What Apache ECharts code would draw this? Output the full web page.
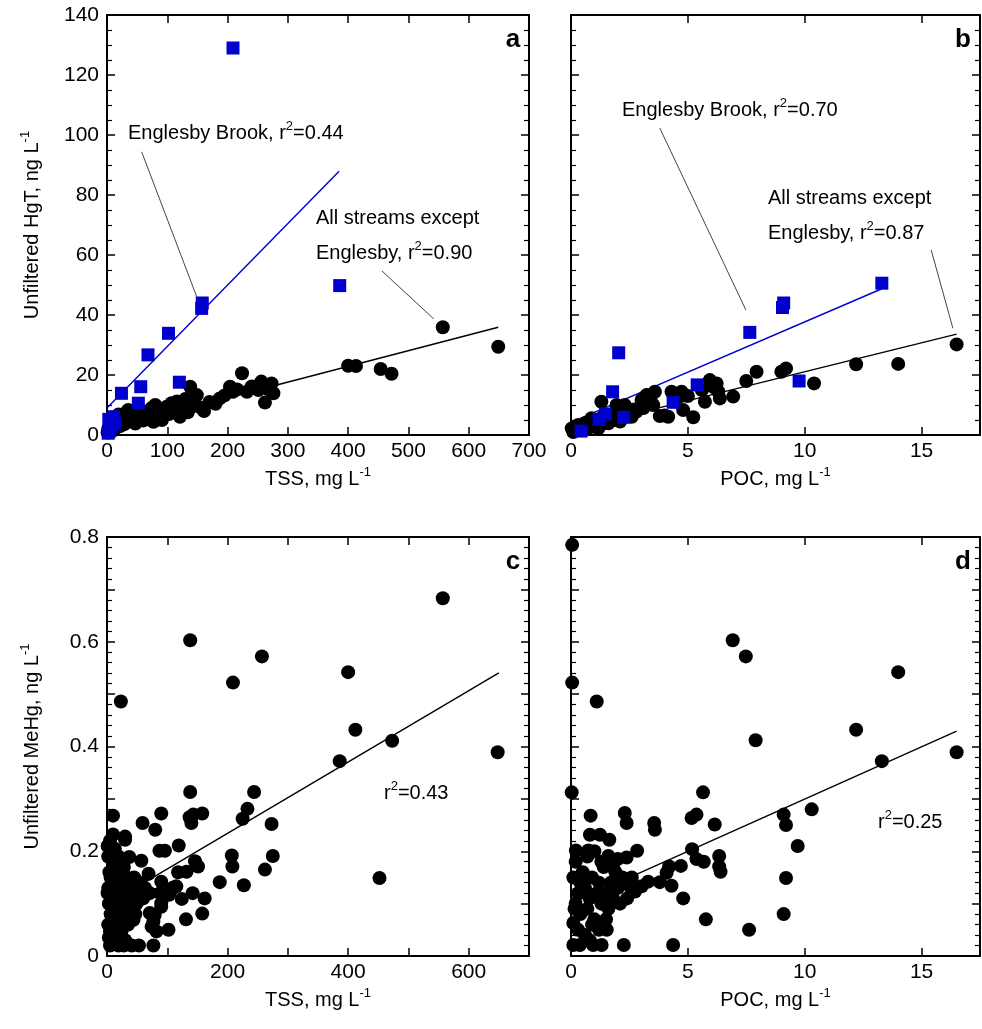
<!DOCTYPE html>
<html>
<head>
<meta charset="utf-8">
<script src="https://cdn.jsdelivr.net/npm/echarts@6/dist/echarts.min.js"></script>
<style>
html, body { margin: 0; padding: 0; background: #fff; }
#chart { width: 982px; height: 1029px; }
</style>
</head>
<body>
<div id="chart"></div>
<script>
// panel a: TSS (mg/L) vs unfiltered HgT (ng/L)
const hgtTssOthers = [
  [1, 0.8], [2, 2], [3, 1], [4, 3], [5, 1.8], [6, 4], [7, 2.6], [8, 1.2], [9, 3.4], [10, 5], [11, 2.2],
  [12, 4.2], [13, 3], [14, 6], [16, 2.5], [17, 4.6], [18, 3.5], [19, 6.8], [21, 5], [22, 3], [24, 4.2],
  [26, 6.2], [28, 3.6], [30, 5.4], [32, 7.4], [35, 8.3], [37, 4.5], [39, 6.3], [42, 5], [44, 7.6],
  [47, 3.8], [49, 6.2], [52, 5.2], [55, 6.1], [57, 8.2], [60, 4.8], [63, 7.2], [66, 5.8], [70, 6.6],
  [74, 9], [77, 4.4], [80, 10], [84, 7.2], [88, 5.6], [91, 5], [95, 8.4], [99, 9.4], [103, 7],
  [107, 10.6], [111, 8.2], [116, 11.2], [121, 6.1], [126, 9.2], [130, 12], [134, 7.6], [138, 16.1],
  [140, 9.4], [145, 10.2], [149, 13.3], [155, 9.2], [161, 8], [170, 11], [180, 10.4], [187, 12.2],
  [195, 13.2], [204, 16.1], [209, 14.4], [216, 15.2], [224, 20.6], [232, 14.4], [240, 16.2],
  [245, 16.1], [251, 15], [256, 17.8], [262, 10.8], [268, 15.2], [273, 17.2], [276, 13.9],
  [400, 23.1], [413, 23], [454, 22], [472, 20.4], [557, 35.9], [649, 29.4]
];
const hgtTssEnglesby = [
  [209, 129], [386, 49.8], [157, 42.2], [158, 44], [102, 33.9], [68, 26.7], [120, 17.6], [56, 16.1],
  [24, 13.9], [52, 10.6], [10.5, 6.1], [13, 4], [8, 3], [5, 2.4], [3, 5.2], [2, 0.6], [4, 1.4]
];

// panel b: POC (mg/L) vs unfiltered HgT (ng/L)
const hgtPocOthers = [
  [0.03, 2.2], [0.1, 1], [0.2, 2.8], [0.31, 3.3], [0.4, 1.8], [0.5, 2.5], [0.6, 3.9], [0.7, 2],
  [0.8, 4.5], [0.88, 5.6], [1.0, 3], [1.1, 4.2], [1.17, 2.2], [1.3, 11.1], [1.35, 6], [1.5, 4],
  [1.6, 3.9], [1.7, 6.5], [1.88, 5], [1.95, 10], [2.0, 7.5], [2.1, 4.5], [2.3, 10], [2.4, 6.5],
  [2.6, 6.1], [2.7, 8.5], [2.8, 7.8], [3.02, 11.7], [3.1, 9], [3.23, 13.3], [3.4, 12], [3.52, 10],
  [3.59, 14.4], [3.8, 6.3], [4.0, 6.5], [4.16, 6.1], [4.3, 14.4], [4.5, 12], [4.73, 14.4], [4.8, 8.3],
  [5.0, 13], [5.23, 5.9], [5.6, 15], [5.73, 11.1], [5.94, 18.3], [6.1, 16], [6.23, 17.2], [6.3, 14.5],
  [6.37, 12.2], [6.94, 12.8], [7.5, 18], [7.94, 21.1], [9.0, 21.1], [9.2, 22.2], [10.4, 17.2],
  [12.2, 23.6], [14.0, 23.7], [16.5, 30.2]
];
const hgtPocEnglesby = [
  [13.3, 50.6], [9.05, 42.5], [9.1, 44], [7.65, 34.2], [2.04, 27.4], [9.76, 18], [5.4, 16.7],
  [1.78, 14.4], [4.37, 10.9], [1.48, 7], [1.2, 5.2], [2.26, 5.9], [0.43, 1.3]
];

// panel c: TSS (mg/L) vs unfiltered MeHg (ng/L)
const mehgTss = [
  [557, 0.683], [138, 0.603], [257, 0.572], [400, 0.542], [209, 0.522], [23, 0.486], [412, 0.432],
  [473, 0.411], [648, 0.389], [386, 0.372], [452, 0.149],
  [138, 0.313], [244, 0.313], [233, 0.281], [225, 0.262], [273, 0.252], [275, 0.191], [262, 0.165],
  [207, 0.192], [208, 0.171], [227, 0.135], [187, 0.141],
  [10, 0.268], [10, 0.232], [30, 0.222], [30, 0.228], [59, 0.254], [80, 0.241], [90, 0.272],
  [137, 0.265], [140, 0.254], [143, 0.27], [158, 0.272], [119, 0.211], [87, 0.201], [96, 0.201],
  [37, 0.189], [57, 0.182], [69, 0.157], [118, 0.16], [132, 0.161], [146, 0.181], [151, 0.171],
  [90, 0.142], [115, 0.133], [106, 0.126], [110, 0.131], [71, 0.12], [88, 0.12], [103, 0.117],
  [124, 0.109], [142, 0.12], [162, 0.11], [90, 0.101], [90, 0.094], [49, 0.1], [44, 0.069],
  [71, 0.082], [79, 0.078], [77, 0.066], [74, 0.056], [82, 0.047], [102, 0.05], [131, 0.07],
  [158, 0.081], [77, 0.02], [53, 0.02], [41, 0.02], [19, 0.02], [5, 0.02], [24, 0.047], [5, 0.047],
  [2, 0.06], [6, 0.08], [12, 0.07], [18, 0.09], [3, 0.1], [9, 0.11], [15, 0.12], [21, 0.1],
  [27, 0.11], [2, 0.13], [8, 0.14], [14, 0.15], [20, 0.13], [26, 0.14], [33, 0.15], [4, 0.16],
  [10, 0.17], [16, 0.18], [22, 0.16], [28, 0.17], [35, 0.12], [40, 0.13], [45, 0.15], [2, 0.19],
  [7, 0.2], [13, 0.205], [19, 0.19], [25, 0.18], [1, 0.21], [5, 0.22], [3, 0.035], [9, 0.04],
  [15, 0.05], [21, 0.06], [27, 0.07], [33, 0.08], [39, 0.09], [45, 0.1], [50, 0.12], [55, 0.14],
  [60, 0.11], [63, 0.13], [35, 0.06], [30, 0.03], [12, 0.03], [28, 0.02], [1, 0.12], [6, 0.15],
  [11, 0.09], [17, 0.06], [23, 0.08], [40, 0.07], [47, 0.08]
];

// panel d: POC (mg/L) vs unfiltered MeHg (ng/L)
const mehgPoc = [
  [0.05, 0.785], [6.92, 0.603], [7.48, 0.572], [14.0, 0.542], [0.05, 0.522], [1.1, 0.486],
  [12.2, 0.432], [7.9, 0.412], [16.5, 0.389], [13.3, 0.372], [9.2, 0.149],
  [0.03, 0.3125], [5.65, 0.3125], [0.84, 0.268], [2.3, 0.273], [2.38, 0.254], [3.56, 0.254],
  [3.59, 0.241], [5.16, 0.2635], [5.37, 0.27], [6.15, 0.251], [0.81, 0.2315], [1.24, 0.2315],
  [1.64, 0.222], [0.21, 0.2015], [0.74, 0.2015], [2.83, 0.201], [2.38, 0.188], [1.6, 0.191],
  [5.18, 0.204], [5.37, 0.185], [5.68, 0.18], [6.34, 0.191], [6.34, 0.171], [6.4, 0.161],
  [4.7, 0.172], [4.2, 0.171], [4.09, 0.159], [3.8, 0.141], [4.3, 0.134], [4.8, 0.11],
  [5.77, 0.07], [7.62, 0.05], [4.37, 0.021], [2.26, 0.021], [3.3, 0.142], [3.02, 0.133],
  [2.74, 0.123], [2.52, 0.133], [1.31, 0.021], [0.95, 0.021], [0.38, 0.021], [0.1, 0.021],
  [1.53, 0.05], [0.1, 0.063], [10.3, 0.28], [9.7, 0.21], [9.1, 0.27], [9.2, 0.25], [9.1, 0.08],
  [0.1, 0.15], [0.2, 0.1], [0.3, 0.12], [0.4, 0.08], [0.5, 0.16], [0.6, 0.13], [0.7, 0.09],
  [0.8, 0.11], [0.9, 0.15], [1.0, 0.07], [1.1, 0.12], [1.2, 0.14], [1.3, 0.1], [1.4, 0.17],
  [1.5, 0.12], [1.6, 0.09], [1.7, 0.14], [1.8, 0.11], [1.9, 0.16], [2.0, 0.13], [2.1, 0.1],
  [2.2, 0.15], [0.3, 0.05], [0.6, 0.04], [0.9, 0.06], [1.2, 0.05], [0.2, 0.18], [0.7, 0.19],
  [1.0, 0.2], [1.3, 0.18], [1.8, 0.17], [2.0, 0.185], [0.4, 0.14], [1.5, 0.07], [2.4, 0.11],
  [2.6, 0.15], [0.15, 0.09], [0.8, 0.03]
];

// fitted regression lines: [intercept, slope, xStart, xEnd]
const fitHgtTssOthers = [1.9, 0.0524, 0, 649];
const fitHgtTssEnglesby = [9, 0.205, 0, 385];
const fitHgtPocOthers = [1.8, 1.93, 0, 16.5];
const fitHgtPocEnglesby = [4.2, 3.35, 0.4, 13.3];
const fitMehgTss = [0.098, 0.000681, 0, 650];
const fitMehgPoc = [0.1, 0.01997, 0, 16.5];

// leader lines from the labels to the data (data coords)
const leadersA = [[[57.5, 94.4], [149, 46]], [[456, 54.7], [542, 38.7]]];
const leadersB = [[[3.8, 102.3], [7.48, 41.7]], [[15.41, 61.7], [16.34, 35.6]]];

const FONT = '"Liberation Sans", Arial, sans-serif';
const BLUE = '#0000cc';

function fitLine(fit) {
  const [b, m, x0, x1] = fit;
  return [[x0, b + m * x0], [x1, b + m * x1]];
}

function axisPair(dim, grid, cfg) {
  const base = {
    type: 'value',
    gridIndex: grid,
    min: cfg.min,
    max: cfg.max,
    interval: cfg.interval,
    axisLine: { show: true, onZero: false, lineStyle: { color: '#000', width: 2 } },
    axisTick: { show: true, inside: true, length: 8, lineStyle: { color: '#000', width: 1.5 } },
    minorTick: { show: !!cfg.minor, splitNumber: cfg.minor || 5, length: 5, lineStyle: { color: '#000', width: 1.2 } },
    splitLine: { show: false },
    minorSplitLine: { show: false },
    axisLabel: { show: false }
  };
  const main = Object.assign({}, base, {
    position: dim === 'x' ? 'bottom' : 'left',
    axisLabel: {
      show: !!cfg.labels,
      color: '#000',
      fontFamily: FONT,
      fontSize: 21,
      margin: dim === 'x' ? 6 : 8,
      formatter: cfg.fmt,
      showMaxLabel: cfg.showMax !== false
    },
    name: cfg.name || '',
    nameLocation: 'middle',
    nameGap: cfg.nameGap || 30,
    nameRotate: dim === 'y' ? 90 : 0,
    nameTextStyle: {
      color: '#000', fontFamily: FONT, fontSize: 20, lineHeight: 26,
      rich: { sup: { fontSize: 13, lineHeight: 14, verticalAlign: 'top', fontFamily: FONT, color: '#000' } }
    }
  });
  const mirror = Object.assign({}, base, { position: dim === 'x' ? 'top' : 'right' });
  return [main, mirror];
}

const fmtMehg = v => (Math.round(v * 10) % 2 === 0 ? (v === 0 ? '0' : v.toFixed(1)) : '');
const fmtTss200 = v => (Math.round(v) % 200 === 0 && v < 700 ? String(v) : '');
const fmtPlain = v => String(v);

const xAxes = [].concat(
  axisPair('x', 0, { min: 0, max: 700, interval: 100, labels: true, fmt: fmtPlain, name: 'TSS, mg L{sup|-1}', nameGap: 31 }),
  axisPair('x', 1, { min: 0, max: 17.5, interval: 5, labels: true, fmt: fmtPlain, showMax: false, name: 'POC, mg L{sup|-1}', nameGap: 31 }),
  axisPair('x', 2, { min: 0, max: 700, interval: 100, labels: true, fmt: fmtTss200, name: 'TSS, mg L{sup|-1}', nameGap: 31 }),
  axisPair('x', 3, { min: 0, max: 17.5, interval: 5, labels: true, fmt: fmtPlain, showMax: false, name: 'POC, mg L{sup|-1}', nameGap: 31 })
);
const yAxes = [].concat(
  axisPair('y', 0, { min: 0, max: 140, interval: 20, minor: 4, labels: true, fmt: fmtPlain, name: 'Unfiltered HgT, ng L{sup|-1}', nameGap: 62 }),
  axisPair('y', 1, { min: 0, max: 140, interval: 20, minor: 4 }),
  axisPair('y', 2, { min: 0, max: 0.8, interval: 0.1, minor: 5, labels: true, fmt: fmtMehg, name: 'Unfiltered MeHg, ng L{sup|-1}', nameGap: 62 }),
  axisPair('y', 3, { min: 0, max: 0.8, interval: 0.1, minor: 5 })
);

function scatter(grid, data, color, symbol, size) {
  return {
    type: 'scatter', xAxisIndex: grid * 2, yAxisIndex: grid * 2,
    data: data, symbol: symbol, symbolSize: size,
    itemStyle: { color: color, opacity: 1 }, z: symbol === 'rect' ? 4 : 3
  };
}
function line(grid, fit, color, leaders) {
  const s = {
    type: 'line', xAxisIndex: grid * 2, yAxisIndex: grid * 2,
    data: fitLine(fit), showSymbol: false, symbol: 'none',
    lineStyle: { color: color, width: 1.4 }, z: 2
  };
  if (leaders) {
    s.markLine = {
      silent: true, symbol: ['none', 'none'], label: { show: false },
      lineStyle: { color: '#444', width: 1, type: 'solid' },
      data: leaders.map(l => [{ coord: l[0] }, { coord: l[1] }])
    };
  }
  return s;
}

const richSup = { sup: { fontSize: 13, lineHeight: 14, verticalAlign: 'top', fontFamily: FONT, fill: '#000', color: '#000' } };
function note(x, y, text) {
  return {
    type: 'text', x: x, y: y, z: 10,
    style: {
      text: text, fill: '#000', fontFamily: FONT, fontSize: 20, lineHeight: 26,
      align: 'left', verticalAlign: 'middle', textAlign: 'left', textVerticalAlign: 'middle',
      rich: richSup
    }
  };
}
function panelLabel(x, y, text) {
  return {
    type: 'text', x: x, y: y, z: 10,
    style: {
      text: text, fill: '#000', fontFamily: FONT, fontSize: 26, fontWeight: 'bold',
      align: 'center', verticalAlign: 'middle', textAlign: 'center', textVerticalAlign: 'middle'
    }
  };
}

const chart = echarts.init(document.getElementById('chart'));
chart.setOption({
  animation: false,
  backgroundColor: '#fff',
  grid: [
    { left: 107, top: 15, width: 422, height: 420 },
    { left: 571, top: 15, width: 409, height: 420 },
    { left: 107, top: 537, width: 422, height: 419 },
    { left: 571, top: 537, width: 409, height: 419 }
  ],
  xAxis: xAxes,
  yAxis: yAxes,
  series: [
    line(0, fitHgtTssOthers, '#000', leadersA),
    line(0, fitHgtTssEnglesby, BLUE),
    scatter(0, hgtTssOthers, '#000', 'circle', 14),
    scatter(0, hgtTssEnglesby, BLUE, 'rect', 13),
    line(1, fitHgtPocOthers, '#000', leadersB),
    line(1, fitHgtPocEnglesby, BLUE),
    scatter(1, hgtPocOthers, '#000', 'circle', 14),
    scatter(1, hgtPocEnglesby, BLUE, 'rect', 13),
    line(2, fitMehgTss, '#000'),
    scatter(2, mehgTss, '#000', 'circle', 14),
    line(3, fitMehgPoc, '#000'),
    scatter(3, mehgPoc, '#000', 'circle', 14)
  ],
  graphic: [
    panelLabel(513, 40, 'a'),
    panelLabel(963, 40, 'b'),
    panelLabel(513, 562, 'c'),
    panelLabel(963, 562, 'd'),
    note(128, 133, 'Englesby Brook, r{sup|2}=0.44'),
    note(316, 218, 'All streams except'),
    note(316, 253, 'Englesby, r{sup|2}=0.90'),
    note(622, 110, 'Englesby Brook, r{sup|2}=0.70'),
    note(768, 198, 'All streams except'),
    note(768, 233, 'Englesby, r{sup|2}=0.87'),
    note(384, 793, 'r{sup|2}=0.43'),
    note(878, 822, 'r{sup|2}=0.25')
  ]
});
</script>
</body>
</html>
